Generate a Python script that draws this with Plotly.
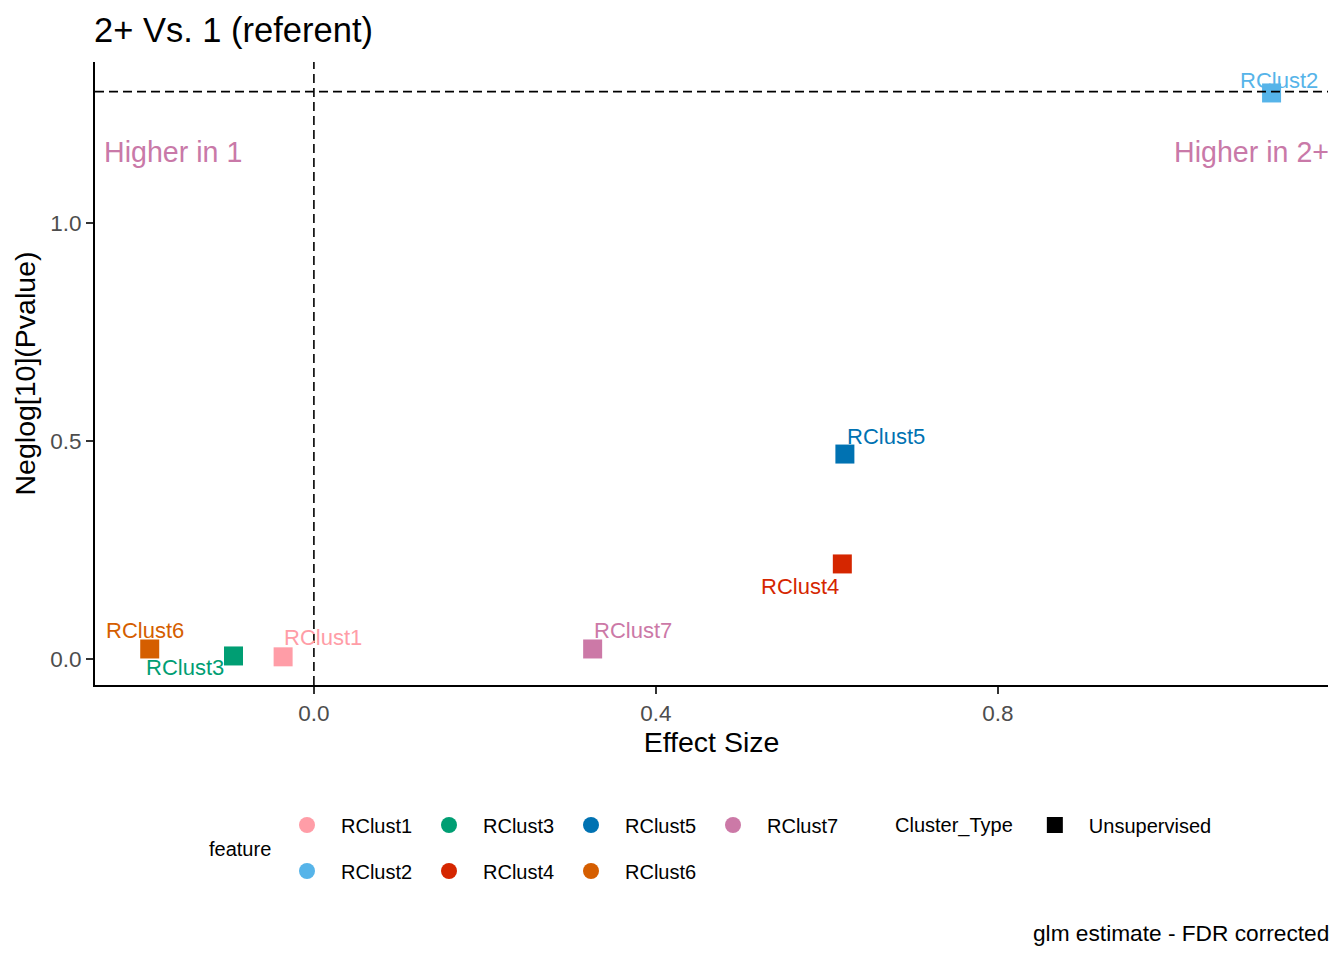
import plotly.graph_objects as go

FONT = "Liberation Sans, Arial, sans-serif"

# data
features = ['RClust1', 'RClust2', 'RClust3', 'RClust4', 'RClust5', 'RClust6', 'RClust7']
effect_size = [-0.036, 1.120, -0.094, 0.618, 0.621, -0.192, 0.326]
neglog_p = [0.005, 1.298, 0.007, 0.218, 0.470, 0.023, 0.023]
colors = ['#FF9DA7', '#56B4E9', '#009E73', '#D52600', '#0072B2', '#D55E00', '#CC79A7']
legend_order = ['RClust1', 'RClust3', 'RClust5', 'RClust7', 'RClust2', 'RClust4', 'RClust6']
x_ticks = [0.0, 0.4, 0.8]
y_ticks = [0.0, 0.5, 1.0]
sig_line = 1.301  # -log10(0.05)

# label offsets in px (repel-like placement)
label_dx = [40, 7, -49, -42, 41, -5, 40]
label_dy = [19, 12, -12, -23, 18, 18, 18]

# page is drawn with an 8px body margin, so work in figure px = page px - 8
OFF = 8
W, H = 1344 - OFF, 960 - OFF
L, R, T, B = 95 - OFF, 1328 - OFF, 62 - OFF, 685 - OFF
def px(x): return (x - OFF - L) / (R - L)
def py(y): return (B - (y - OFF)) / (B - T)
def cx(x): return (x - OFF) / W
def cy(y): return 1 - (y - OFF) / H

fig = go.Figure()

for f, x, y, c in zip(features, effect_size, neglog_p, colors):
    fig.add_trace(go.Scatter(x=[x], y=[y], mode='markers', showlegend=False,
                             marker=dict(symbol='square', size=19, color=c),
                             hoverinfo='text', hovertext=f))

# legend entries (circles for feature, square for cluster type)
for i, f in enumerate(legend_order):
    c = colors[features.index(f)]
    fig.add_trace(go.Scatter(x=[None], y=[None], mode='markers', name=f,
                             marker=dict(symbol='circle', size=17, color=c),
                             legend='legend' if i < 4 else 'legend2'))
fig.add_trace(go.Scatter(x=[None], y=[None], mode='markers', name='Unsupervised',
                         marker=dict(symbol='square', size=18, color='black'),
                         legend='legend3'))

for f, x, y, c, dx, dy in zip(features, effect_size, neglog_p, colors, label_dx, label_dy):
    fig.add_annotation(x=x, y=y, text=f, showarrow=False, xshift=dx, yshift=dy,
                       font=dict(family=FONT, size=22, color=c))

fig.add_hline(y=sig_line, line=dict(color='black', width=1.6, dash='9px,5px'))
fig.add_vline(x=0, line=dict(color='black', width=1.6, dash='9px,5px'))

fig.add_annotation(x=0, xref='paper', y=1.163, yref='y', xshift=7, text='Higher in 1',
                   showarrow=False, xanchor='left', font=dict(family=FONT, size=28.6, color='#C979A8'))
fig.add_annotation(x=1, xref='paper', y=1.163, yref='y', xshift=3, text='Higher in 2+',
                   showarrow=False, xanchor='right', font=dict(family=FONT, size=28.6, color='#C979A8'))

fig.add_annotation(x=px(240), xref='paper', y=py(849), yref='paper', text='feature',
                   showarrow=False, xanchor='center', yanchor='middle',
                   font=dict(family=FONT, size=20, color='black'))
fig.add_annotation(x=1, xref='paper', y=py(933), yref='paper', xshift=3,
                   text='glm estimate - FDR corrected', showarrow=False, xanchor='right', yanchor='middle',
                   font=dict(family=FONT, size=22.7, color='black'))

leg = dict(orientation='h', xref='container', yref='container', yanchor='middle',
           font=dict(family=FONT, size=20, color='black'), bgcolor='rgba(0,0,0,0)',
           entrywidth=69, itemwidth=58, itemclick=False, tracegroupgap=0)

fig.update_layout(
    width=W, height=H,
    paper_bgcolor='white', plot_bgcolor='white',
    margin=dict(l=L, r=W - R, t=T, b=H - B),
    font=dict(family=FONT, color='black'),
    title=dict(text='2+ Vs. 1 (referent)', x=cx(94), xanchor='left', y=cy(30), yanchor='middle',
               font=dict(family=FONT, size=34.5, color='black')),
    xaxis=dict(range=[-0.256, 1.186], tickvals=x_ticks, ticktext=['%.1f' % v for v in x_ticks],
               showgrid=False, zeroline=False, showline=True, linecolor='black', linewidth=2,
               ticks='outside', ticklen=7, tickwidth=2, tickcolor='#333333',
               tickfont=dict(family=FONT, size=22.5, color='#4D4D4D'),
               title=dict(text='Effect Size', font=dict(family=FONT, size=28.5, color='black'), standoff=6)),
    yaxis=dict(range=[-0.0596, 1.369], tickvals=y_ticks, ticktext=['%.1f' % v for v in y_ticks],
               showgrid=False, zeroline=False, showline=True, linecolor='black', linewidth=2,
               ticks='outside', ticklen=7, tickwidth=2, tickcolor='#333333',
               tickfont=dict(family=FONT, size=22.5, color='#4D4D4D'),
               title=dict(text='Neglog[10](Pvalue)', font=dict(family=FONT, size=28.5, color='black'), standoff=6)),
    legend=dict(leg, x=cx(273), y=cy(825)),
    legend2=dict(leg, x=cx(273), y=cy(871)),
    legend3=dict(leg, x=cx(893), y=cy(825), entrywidth=0,
                 title=dict(text='Cluster_Type', side='left', font=dict(family=FONT, size=20, color='black'))),
)

fig.write_html("out.html")
